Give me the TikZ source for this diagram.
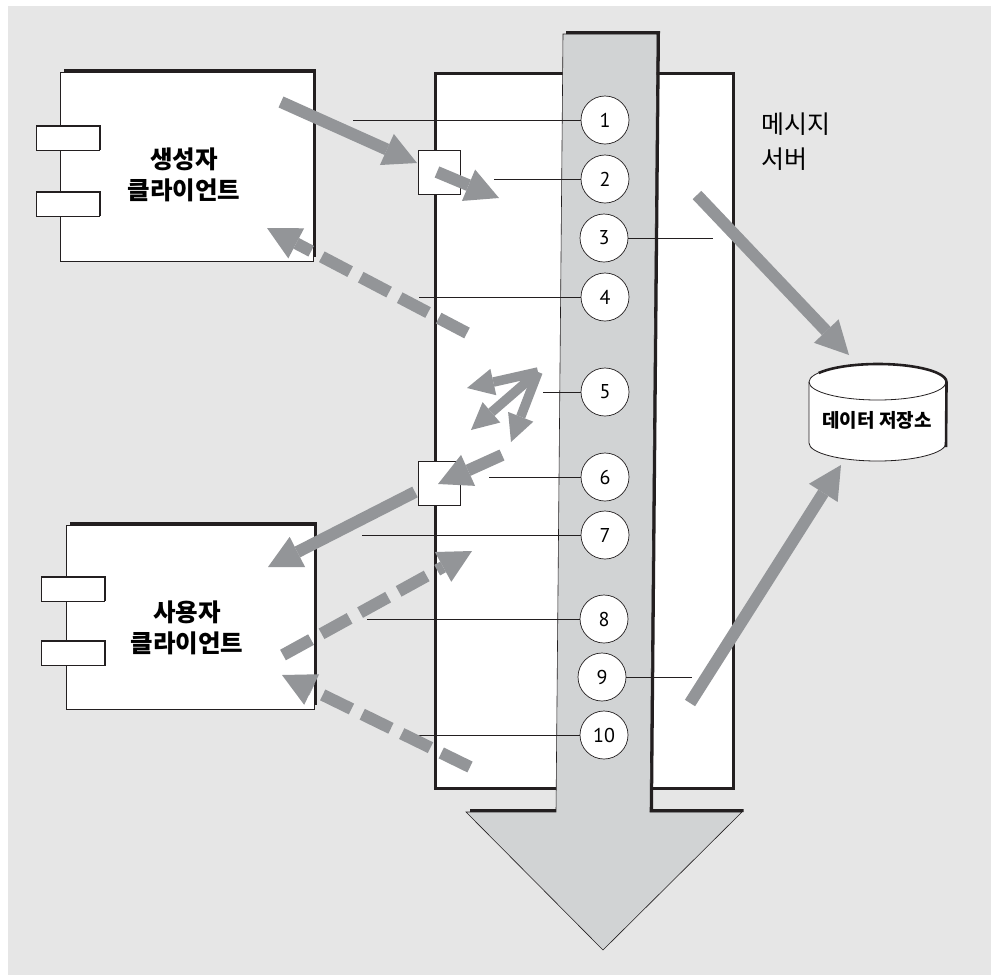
\documentclass[tikz,border=0pt]{standalone}
\usepackage{fontspec}
\setmainfont{PT Sans}
\newfontfamily\kr{Noto Sans CJK KR}
\usetikzlibrary{arrows.meta,calc}
\definecolor{bg}{HTML}{E6E6E6}
\definecolor{colfill}{HTML}{D1D3D4}
\definecolor{arr}{HTML}{939598}
\definecolor{ink}{HTML}{231F20}
\begin{document}
\begin{tikzpicture}[x=1pt,y=-1pt,
  box/.style={draw=ink,line width=0.8pt,fill=white,inner sep=0pt,anchor=north west},
  tabbox/.style={draw=ink,line width=0.9pt,fill=white,inner sep=0pt,minimum width=63pt,minimum height=24pt},
  entry/.style={draw=ink,line width=1pt,fill=white,inner sep=0pt,minimum width=42pt,minimum height=44pt},
  shadowline/.style={draw=ink,line width=3pt},
  num/.style={circle,draw=ink,line width=0.7pt,fill=white,minimum size=48pt,inner sep=0pt,font=\fontsize{20}{20}\selectfont},
  lead/.style={draw=ink,line width=0.7pt},
  fat/.style={draw=arr,line width=12pt,-{Triangle[length=33pt,width=34pt,line width=0pt]}},
  slim/.style={draw=arr,line width=9.5pt,-{Triangle[length=27pt,width=27pt,line width=0pt]}},
  dashfat/.style={fat,dash pattern=on 32pt off 12pt},
  bigkr/.style={font=\kr\bfseries\fontsize{24.5}{31}\selectfont,align=center,inner sep=0pt}
]
\useasboundingbox (0,0) rectangle (991,975);
\fill[white] (0,0) rectangle (991,975);
\fill[bg] (8,6) rectangle (991,975);

% message server box
\node[box,line width=2.5pt,minimum width=298pt,minimum height=715pt] (server) at (434,72) {};

% big flow arrow (column)
\filldraw[fill=colfill,draw=ink,line width=0.6pt]
  (563,34) -- (657,34) -- (650,812) -- (742,812) -- (603,950) -- (466,812) -- (556,812) -- cycle;
\draw[shadowline] (566,32.5) -- (658.5,32.5) -- (651.5,810.5) -- (743.5,810.5);
\draw[shadowline] (470,810.5) -- (556,810.5);

% numbered steps
\node[num] (c1) at (605,120) {1};
\node[num] (c2) at (605,179) {2};
\node[num] (c3) at (604,238) {3};
\node[num] (c4) at (605,297) {4};
\node[num] (c5) at (605,392) {5};
\node[num] (c6) at (605,477) {6};
\node[num] (c7) at (605,535) {7};
\node[num] (c8) at (604,619) {8};
\node[num] (c9) at (602,677) {9};
\node[num] (c10) at (604,735) {10};

% leader lines
\coordinate (l1) at (353,120);
\coordinate (l2) at (494,179);
\coordinate (l3) at (713,238);
\coordinate (l4) at (419,297);
\coordinate (l5) at (543,392);
\coordinate (l6) at (489,477);
\coordinate (l7) at (362,535);
\coordinate (l8) at (367,619);
\coordinate (l9) at (692,677);
\coordinate (l10) at (418,735);
\draw[lead] (l1) -- (c1);
\draw[lead] (l2) -- (c2);
\draw[lead] (c3) -- (l3);
\draw[lead] (l4) -- (c4);
\draw[lead] (l5) -- (c5);
\draw[lead] (l6) -- (c6);
\draw[lead] (l7) -- (c7);
\draw[lead] (l8) -- (c8);
\draw[lead] (c9) -- (l9);
\draw[lead] (l10) -- (c10);

% producer client
\node[box,minimum width=253pt,minimum height=189pt] (prod) at (60,72) {};
\draw[shadowline] (64,70.5) -- (314.5,70.5) -- (314.5,257);
\node[tabbox] (pt1) at (68,138) {};
\node[tabbox] (pt2) at (68,204) {};
\draw[ink,line width=1.6pt] (pt1.north west) -- (pt1.north east) -- (pt1.south east);
\draw[ink,line width=1.6pt] (pt2.north west) -- (pt2.north east) -- (pt2.south east);
\node[bigkr] (prodlabel) at (184,175) {생성자\\클라이언트};

% consumer client
\node[box,minimum width=248pt,minimum height=184pt] (cons) at (66,525) {};
\draw[shadowline] (70,523) -- (315.5,523) -- (315.5,705);
\node[tabbox] (ct1) at (73,589) {};
\node[tabbox] (ct2) at (73,653.5) {};
\draw[ink,line width=1.6pt] (ct1.north west) -- (ct1.north east) -- (ct1.south east);
\draw[ink,line width=1.6pt] (ct2.north west) -- (ct2.north east) -- (ct2.south east);
\node[bigkr] (conslabel) at (187,628) {사용자\\클라이언트};

% server label
\node[font=\kr\fontsize{25}{35}\selectfont,align=left,inner sep=0pt,anchor=west] (srvlabel) at (761,141.5) {메시지\\서버};

% data store
\filldraw[fill=white,draw=ink,line width=0.8pt]
  (809,382) -- (809,443) arc[start angle=180,end angle=0,x radius=68.5,y radius=18]
  -- (946,382) arc[start angle=0,end angle=-180,x radius=68.5,y radius=18] -- cycle;
\draw[ink,line width=0.8pt] (809,382) arc[start angle=180,end angle=0,x radius=68.5,y radius=18];
\draw[ink,line width=2.6pt] (818.7,373) arc[start angle=-150,end angle=0,x radius=68.5,y radius=18] -- (946,447);
\node[font=\kr\bfseries\fontsize{19}{19}\selectfont,inner sep=0pt] (ds) at (877,420) {데이터 저장소};

% arrow endpoints
\coordinate (aS) at (281,102);  \coordinate (aT) at (417,163);
\coordinate (bS) at (437,172);  \coordinate (bT) at (499,198);
\coordinate (cS) at (467,333);  \coordinate (cT) at (267,228);
\coordinate (jS) at (538,372);
\coordinate (j1) at (467,388);  \coordinate (j2) at (471,430);  \coordinate (j3) at (511,442);
\coordinate (e1S) at (502,455); \coordinate (e1T) at (438,484);
\coordinate (e2S) at (415,492); \coordinate (e2T) at (268,567);
\coordinate (fS) at (283,655);  \coordinate (fT) at (472,551);
\coordinate (gS) at (470,767);  \coordinate (gT) at (282,675);
\coordinate (hS) at (697,195);  \coordinate (hT) at (849,355);
\coordinate (iS) at (690,703);  \coordinate (iT) at (841,465);

% connectors
\draw[fat] (aS) -- (aT);
\node[entry] (sq1) at (439,172.5) {};
\draw[fat] (bS) -- (bT);
\draw[dashfat] (cS) -- (cT);
\draw[slim] (jS) -- (j1);
\draw[slim] (jS) -- (j2);
\draw[slim] (jS) -- (j3);
\draw[fat] (e2S) -- (e2T);
\node[entry] (sq2) at (439,483) {};
\draw[fat] (e1S) -- (e1T);
\draw[dashfat] (fS) -- (fT);
\draw[dashfat] (gS) -- (gT);
\draw[fat] (hS) -- (hT);
\draw[fat] (iS) -- (iT);
\end{tikzpicture}
\end{document}
